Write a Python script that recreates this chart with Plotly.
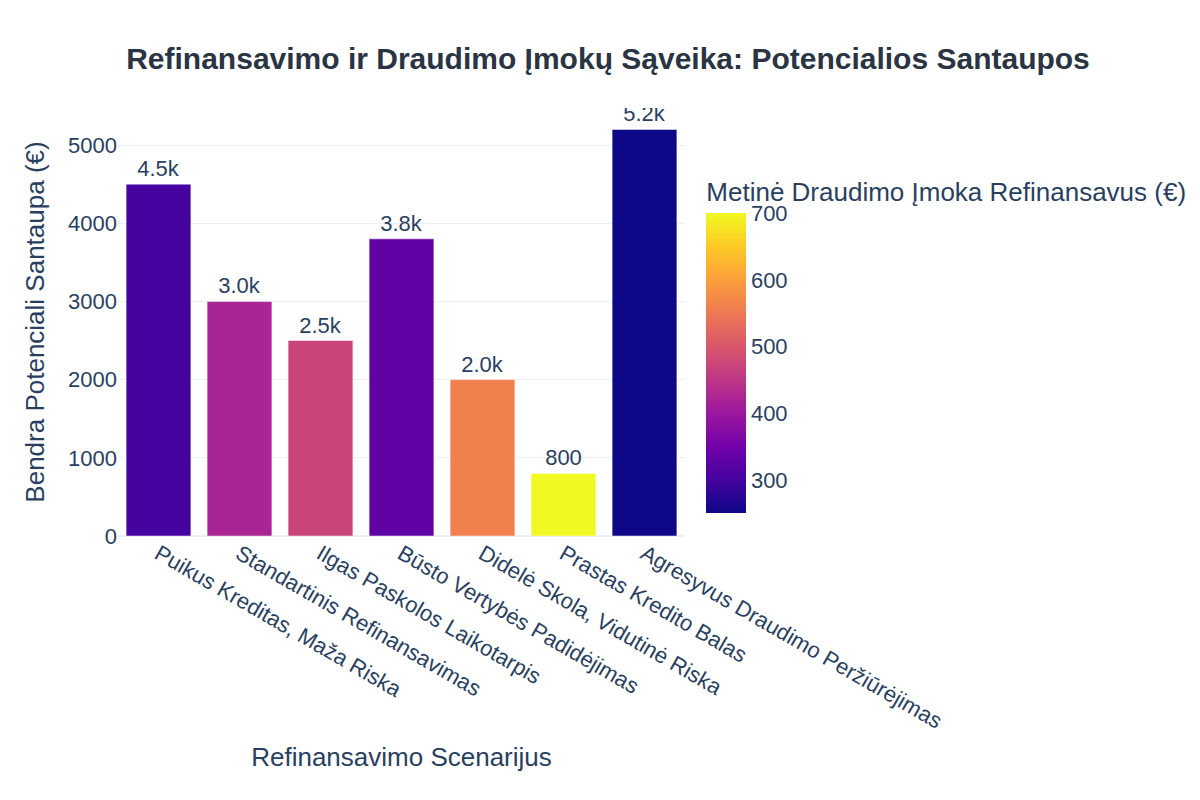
import plotly.graph_objects as go

scenarios = [
    "Puikus Kreditas, Maža Riska",
    "Standartinis Refinansavimas",
    "Ilgas Paskolos Laikotarpis",
    "Būsto Vertybės Padidėjimas",
    "Didelė Skola, Vidutinė Riska",
    "Prastas Kredito Balas",
    "Agresyvus Draudimo Peržiūrėjimas",
]
savings = [4500, 3000, 2500, 3800, 2000, 800, 5200]
premiums = [300, 420, 470, 330, 560, 700, 250]

fig = go.Figure(go.Bar(
    x=scenarios, y=savings,
    marker=dict(
        color=premiums, colorscale="Plasma", cmin=250, cmax=700,
        colorbar=dict(
            title=dict(text="Metinė Draudimo Įmoka Refinansavus (€)", side="top"),
            thickness=40, len=0.83, y=0.03, yanchor="bottom", outlinewidth=0,
            tickvals=[300, 400, 500, 600, 700],
        ),
    ),
    texttemplate="%{y:.2s}", textposition="outside",
))

fig.update_layout(
    template="plotly_white",
    width=1200, height=800,
    font=dict(family="Arial, Liberation Sans", size=22, color="#2a3f5f"),
    title=dict(text="<b>Refinansavimo ir Draudimo Įmokų Sąveika: Potencialios Santaupos</b>",
               x=0.5, xanchor="center", y=0.95, font=dict(size=30, color="#2a3442")),
    margin=dict(l=110, r=30, t=100, b=272),
    xaxis=dict(tickangle=30, title=dict(text="Refinansavimo Scenarijus")),
    yaxis=dict(title=dict(text="Bendra Potenciali Santaupa (€)")),
    bargap=0.2,
)

fig.write_html("out.html")
